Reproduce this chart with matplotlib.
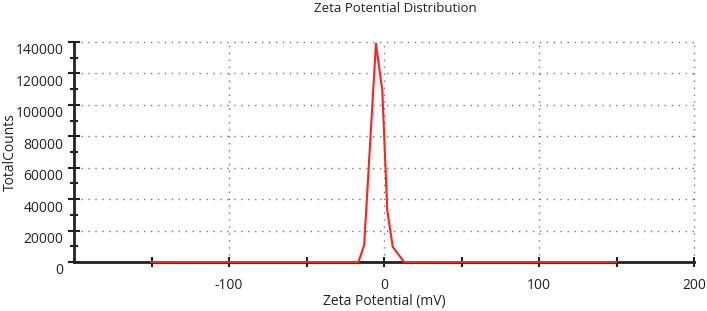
import matplotlib
matplotlib.use("Agg")
import matplotlib.pyplot as plt
import matplotlib.transforms as mtransforms
from matplotlib.ticker import FixedLocator, MultipleLocator

# data
zeta_mv = [-150, -16.5, -12.8, -5.2, -1.1, 2.1, 5.6, 12.9, 150]
total_counts = [0, 0, 10800, 139000, 109000, 33000, 9700, 0, 0]

x_major = [-100, 0, 100, 200]
x_minor = [-150, -50, 50, 150]
y_major = [0, 20000, 40000, 60000, 80000, 100000, 120000, 140000]

plt.rcParams['font.family'] = ['Open Sans', 'DejaVu Sans']
plt.rcParams['axes.unicode_minus'] = False

fig = plt.figure(figsize=(7.07, 3.11), dpi=100)
ax = fig.add_axes([74/707, 1 - 262/311, (694-74)/707, (262-42)/311])

ax.plot(zeta_mv, total_counts, color='#ff2020', lw=1.5, zorder=3, clip_on=False)

ax.set_xlim(-200, 200)
ax.set_ylim(0, 140000)
ax.xaxis.set_major_locator(FixedLocator(x_major))
ax.xaxis.set_minor_locator(FixedLocator(x_minor))
ax.yaxis.set_major_locator(FixedLocator(y_major))
ax.yaxis.set_minor_locator(MultipleLocator(10000))

for s in ['top', 'right']:
    ax.spines[s].set_visible(False)
for s in ['left', 'bottom']:
    ax.spines[s].set_linewidth(2.0)
    ax.spines[s].set_color('#222222')

ax.grid(True, which='major', linestyle=(0, (1, 4)), color='#777777', lw=1.0)
ax.tick_params(axis='both', which='both', direction='inout', color='#222222', width=1.5,
               labelsize=10, labelcolor='#222222')
ax.tick_params(axis='y', which='major', length=9, pad=3)
ax.tick_params(axis='y', which='minor', length=6)
ax.tick_params(axis='x', which='both', length=7, pad=8)

for gl in ax.get_xgridlines() + ax.get_ygridlines():
    gl.set_clip_on(False)

off = mtransforms.ScaledTranslation(0, -7/100, fig.dpi_scale_trans)
for lbl in ax.get_yticklabels():
    lbl.set_transform(lbl.get_transform() + off)

fig.text(384/707, 1 - 301/311, 'Zeta Potential (mV)', ha='center', va='center',
         fontsize=10, color='#222222')
fig.text(10/707, 1 - 152/311, 'TotalCounts', ha='center', va='center', rotation=90,
         fontsize=10, color='#222222')
fig.text(395/707, 1 - 9/311, 'Zeta Potential Distribution', ha='center', va='center',
         fontsize=9.5, color='#222222')

fig.savefig('out.png', dpi=100)
